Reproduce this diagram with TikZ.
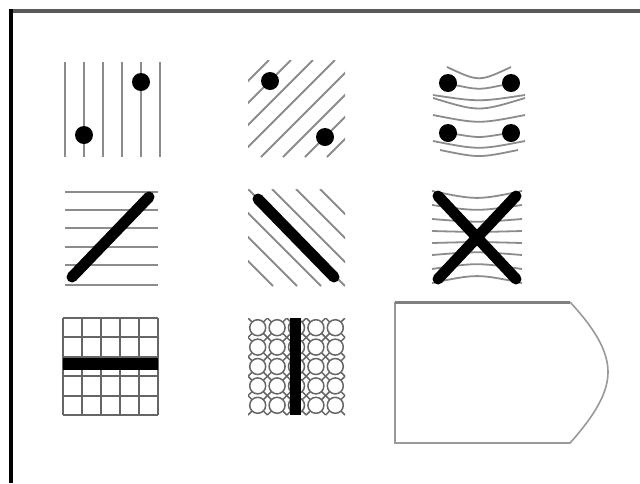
\documentclass[tikz,border=0pt]{standalone}
\usepackage{tikz}
\begin{document}
\begin{tikzpicture}[x=1pt, y=-1pt,
  hatch/.style={draw=black!45, line width=1.8pt},
  gridline/.style={draw=black!60, line width=1.7pt},
  chain/.style={draw=black!60, line width=1.5pt},
  dot/.style={fill=black},
  bar/.style={draw=black, line width=11pt, line cap=round},
  outline/.style={draw=black!40, line width=1.6pt}
]
  \useasboundingbox (0,0) rectangle (640,483);
  \draw[black!65, line width=4pt] (9,11) -- (640,11);
  \draw[black, line width=3.5pt] (11,9) -- (11,483);

  \foreach \x in {65,84,103,122,141,160}
    \draw[hatch] (\x,62) -- (\x,157);
  \fill[dot] (84,135) circle (9pt) (141,82) circle (9pt);

  \begin{scope}
    \clip (248,60) rectangle (345,157);
    \foreach \c in {329,351,373,395,418,440,462,484}
      \draw[hatch] (\c-60,60) -- (\c-157,157);
  \end{scope}
  \fill[dot] (270,81) circle (9pt) (325,137) circle (9pt);

  \draw[hatch] (447,67) .. controls (479,82) .. (511,67);
  \draw[hatch] (455,85) .. controls (479,90) .. (503,85);
  \draw[hatch] (433,95) .. controls (479,102) .. (525,95);
  \draw[hatch] (433,98) .. controls (479,112) .. (525,98);
  \draw[hatch] (433,115) .. controls (479,124) .. (525,115);
  \draw[hatch] (455,134) .. controls (479,138) .. (503,134);
  \draw[hatch] (433,141) .. controls (479,150) .. (525,141);
  \draw[hatch] (440,150) .. controls (479,158) .. (518,150);
  \fill[dot] (448,83) circle (9pt) (511,83) circle (9pt)
             (448,133) circle (9pt) (511,133) circle (9pt);

  \foreach \y in {192,210,228,247,265,285}
    \draw[hatch] (65,\y) -- (158,\y);
  \draw[bar] (72,277) -- (149,197);

  \begin{scope}
    \clip (248,189) rectangle (345,286);
    \foreach \c in {-13,11,35,59,83,107,131}
      \draw[hatch] (189+\c,189) -- (286+\c,286);
  \end{scope}
  \draw[bar] (258,199) -- (334,277);

  \foreach \o in {-46,-32,-18,-6,6,18,32,46}
    \draw[hatch] (432,237+\o) .. controls (477,237+0.8*\o) .. (522,237+\o);
  \draw[bar] (438,196) -- (516,279);
  \draw[bar] (516,196) -- (438,279);

  \foreach \x in {63,82,101,120,139,158}
    \draw[gridline] (\x,318) -- (\x,415);
  \foreach \y in {318,337,357,376,396,415}
    \draw[gridline] (63,\y) -- (158,\y);
  \draw[black, line width=12pt] (63,364) -- (158,364);

  \begin{scope}[shift={(248,318)}]
    \clip (0,0) rectangle (97,97);
    \foreach \k in {-5,...,5}
      \draw[chain] (19.4*\k,0) -- (19.4*\k+97,97);
    \foreach \k in {0,...,10}
      \draw[chain] (19.4*\k,0) -- (19.4*\k-97,97);
    \foreach \i in {0,...,4}
      \foreach \j in {0,...,4}
        \draw[chain, fill=white] (9.7+19.4*\i,9.7+19.4*\j) circle (8pt);
  \end{scope}
  \draw[black, line width=11pt] (295,318) -- (295,415);

  \draw[outline] (570,302) .. controls (596,330) and (608,352) .. (608,372)
    .. controls (608,392) and (596,414) .. (570,443) -- (395,443) -- (395,302);
  \draw[draw=black!50, line width=3pt] (395,302) -- (570,302);
\end{tikzpicture}
\end{document}
